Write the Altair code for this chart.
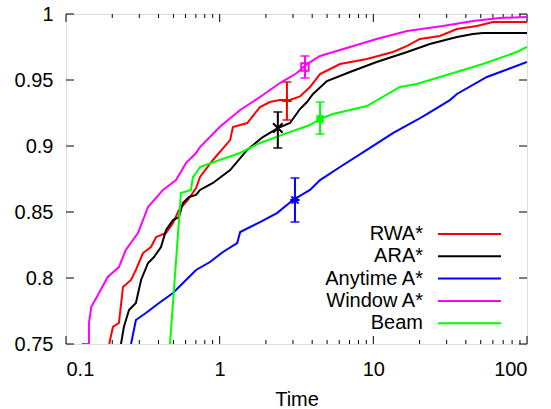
import altair as alt
import pandas as pd

FONT = "Liberation Sans"

series = ["RWA*", "ARA*", "Anytime A*", "Window A*", "Beam"]
colors = ["#ff0000", "#000000", "#0000ff", "#ff00ff", "#00ff00"]

rwa_x = [0.191, 0.202, 0.221, 0.235, 0.265, 0.285, 0.317, 0.357, 0.386, 0.448, 0.497, 0.543, 0.622, 0.702, 0.745,
         0.904, 1.17, 1.22, 1.51, 1.83, 2.12, 2.47, 2.87, 3.33, 3.87, 4.50, 6.07, 9.08, 13.4, 16.6, 20.1, 27.1,
         35.0, 47.2, 60.0, 100]
rwa_y = [0.75, 0.7629, 0.7659, 0.7932, 0.7985, 0.8061, 0.8189, 0.8235, 0.8311, 0.8341, 0.8417, 0.8515, 0.8591,
         0.8682, 0.8765, 0.8894, 0.9045, 0.9144, 0.9174, 0.9295, 0.9333, 0.9348, 0.9348, 0.9375, 0.9447, 0.9545,
         0.9621, 0.9659, 0.9712, 0.9758, 0.9811, 0.9833, 0.9886, 0.9909, 0.9939, 0.9939]

ara_x = [0.228, 0.238, 0.257, 0.285, 0.308, 0.342, 0.374, 0.415, 0.448, 0.497, 0.543, 0.577, 0.631, 0.702, 0.745,
         0.904, 1.17, 1.51, 1.91, 2.39, 2.87, 3.33, 3.70, 4.05, 4.99, 7.05, 10.5, 16.6, 23.3, 35.0, 44.5, 51.6, 100]
ara_y = [0.75, 0.7629, 0.7758, 0.7811, 0.7985, 0.8114, 0.8159, 0.8235, 0.8364, 0.8439, 0.8462, 0.8568, 0.8614,
         0.8629, 0.8667, 0.8720, 0.8818, 0.8970, 0.9068, 0.9136, 0.9174, 0.9280, 0.9333, 0.9394, 0.9492, 0.9561,
         0.9636, 0.9712, 0.9773, 0.9826, 0.9848, 0.9856, 0.9856]

any_x = [0.265, 0.285, 0.331, 0.403, 0.497, 0.577, 0.702, 0.865, 1.05, 1.30, 1.36, 1.83, 2.36, 3.00, 3.87, 4.50,
         6.07, 9.08, 13.4, 19.2, 22.3, 31.5, 35.0, 54.8, 100]
any_y = [0.75, 0.7682, 0.7735, 0.7811, 0.7886, 0.7962, 0.8061, 0.8121, 0.8197, 0.8265, 0.8348, 0.8424, 0.8492,
         0.8591, 0.8667, 0.8742, 0.8841, 0.8970, 0.9098, 0.9197, 0.9242, 0.9348, 0.9394, 0.9523, 0.9636]

win_x = [0.127, 0.141, 0.141, 0.146, 0.164, 0.187, 0.221, 0.245, 0.294, 0.342, 0.428, 0.520, 0.604, 0.702, 0.745,
         1.00, 1.36, 1.83, 2.47, 3.18, 3.70, 4.50, 7.05, 10.5, 16.6, 28.4, 44.5, 66.7, 100]
win_y = [0.75, 0.75, 0.7659, 0.7780, 0.7886, 0.8008, 0.8083, 0.8212, 0.8341, 0.8538, 0.8667, 0.8742, 0.8871,
         0.8947, 0.8992, 0.9144, 0.9273, 0.9371, 0.9477, 0.9553, 0.9621, 0.9682, 0.9750, 0.9811, 0.9871, 0.9909,
         0.9947, 0.9970, 0.9977]

beam_x = [0.475, 0.560, 0.650, 0.670, 0.702, 0.745, 1.00, 1.36, 1.83, 2.74, 3.87, 4.50, 5.46, 9.08, 14.9, 19.2,
          31.5, 51.6, 85.9, 100]
beam_y = [0.75, 0.8644, 0.8667, 0.8765, 0.8795, 0.8841, 0.8894, 0.8947, 0.9023, 0.9098, 0.9159, 0.9205, 0.9242,
          0.9303, 0.9447, 0.9470, 0.9545, 0.9621, 0.9712, 0.9750]

err_x = [2.74, 2.39, 3.09, 3.59, 4.50]
err_y = [0.9341, 0.9136, 0.8591, 0.9598, 0.9205]
err_lo = [0.9197, 0.8985, 0.8424, 0.9515, 0.9091]
err_hi = [0.9485, 0.9258, 0.8758, 0.9682, 0.9333]

x_major = [0.1, 1, 10, 100]
x_minor = [0.2, 0.3, 0.4, 0.5, 0.6, 0.7, 0.8, 0.9, 2, 3, 4, 5, 6, 7, 8, 9, 20, 30, 40, 50, 60, 70, 80, 90]
y_ticks = [0.75, 0.8, 0.85, 0.9, 0.95, 1.0]

W, H = 461, 330

xs = [rwa_x, ara_x, any_x, win_x, beam_x]
ys = [rwa_y, ara_y, any_y, win_y, beam_y]
rows = []
for name, sx, sy in zip(series, xs, ys):
    for i, (a, b) in enumerate(zip(sx, sy)):
        rows.append({"s": name, "x": a, "y": b, "i": i})
lines_df = pd.DataFrame(rows)
err_df = pd.DataFrame({"s": series, "x": err_x, "y": err_y, "lo": err_lo, "hi": err_hi})

xscale = alt.Scale(type="log", domain=[0.1, 100], nice=False)
yscale = alt.Scale(domain=[0.75, 1.0], nice=False, zero=False)
cscale = alt.Scale(domain=series, range=colors)

X = alt.X("x:Q", scale=xscale,
          axis=alt.Axis(values=x_major, format="~g", ticks=False, domain=False, grid=False,
                        labelFontSize=20, labelFont=FONT, labelColor="black", labelPadding=15,
                        title="Time", titleFontSize=20, titleFont=FONT, titleFontWeight="normal",
                        titleColor="black", titlePadding=10))
Y = alt.Y("y:Q", scale=yscale,
          axis=alt.Axis(values=y_ticks, format="~g", ticks=False, domain=False, grid=False,
                        labelFontSize=20, labelFont=FONT, labelColor="black", labelPadding=13,
                        title=None))

lines = alt.Chart(lines_df).mark_line(strokeWidth=2, clip=True).encode(
    x=X, y=Y,
    color=alt.Color("s:N", scale=cscale, legend=None),
    detail="s:N",
    order=alt.Order("i:Q"),
)

err_base = alt.Chart(err_df)
bars = err_base.mark_rule(strokeWidth=2).encode(
    x=alt.X("x:Q", scale=xscale), y=alt.Y("lo:Q", scale=yscale), y2="hi:Q",
    color=alt.Color("s:N", scale=cscale, legend=None))
caps_lo = err_base.mark_tick(orient="horizontal", size=9, thickness=2).encode(
    x=alt.X("x:Q", scale=xscale), y=alt.Y("lo:Q", scale=yscale),
    color=alt.Color("s:N", scale=cscale, legend=None))
caps_hi = err_base.mark_tick(orient="horizontal", size=9, thickness=2).encode(
    x=alt.X("x:Q", scale=xscale), y=alt.Y("hi:Q", scale=yscale),
    color=alt.Color("s:N", scale=cscale, legend=None))

shapes = [
    ("M-1,0L1,0M0,-1L0,1", False),
    ("M-1,-1L1,1M-1,1L1,-1", False),
    ("M-1,0L1,0M0,-1L0,1M-0.75,-0.75L0.75,0.75M-0.75,0.75L0.75,-0.75", False),
    ("square", False),
    ("square", True),
]
markers = []
for name, c, (shp, filled) in zip(series, colors, shapes):
    m = alt.Chart(err_df[err_df["s"] == name]).mark_point(
        shape=shp, filled=filled, size=90 if shp != "square" else 55, strokeWidth=2,
        color=c, opacity=1).encode(x=alt.X("x:Q", scale=xscale), y=alt.Y("y:Q", scale=yscale))
    markers.append(m)

# inward ticks
xmaj_df = pd.DataFrame({"x": x_major})
xmin_df = pd.DataFrame({"x": x_minor})
yt_df = pd.DataFrame({"y": y_ticks})
tick_layers = []
for df, ln in [(xmaj_df, 8), (xmin_df, 4)]:
    tick_layers.append(alt.Chart(df).mark_rule(color="black", strokeWidth=1).encode(
        x=alt.X("x:Q", scale=xscale), y=alt.value(H), y2=alt.value(H - ln)))
    tick_layers.append(alt.Chart(df).mark_rule(color="black", strokeWidth=1).encode(
        x=alt.X("x:Q", scale=xscale), y=alt.value(0), y2=alt.value(ln)))
tick_layers.append(alt.Chart(yt_df).mark_rule(color="black", strokeWidth=1).encode(
    y=alt.Y("y:Q", scale=yscale), x=alt.value(0), x2=alt.value(8)))
tick_layers.append(alt.Chart(yt_df).mark_rule(color="black", strokeWidth=1).encode(
    y=alt.Y("y:Q", scale=yscale), x=alt.value(W), x2=alt.value(W - 8)))

# legend (gnuplot style: label then line sample)
legend_layers = []
for k, (name, c) in enumerate(zip(series, colors)):
    ly = 220 + 22.3 * k
    ldf = pd.DataFrame({"t": [name]})
    legend_layers.append(alt.Chart(ldf).mark_text(
        align="right", baseline="middle", fontSize=20, font=FONT, color="black").encode(
        text="t:N", x=alt.value(357), y=alt.value(ly)))
    legend_layers.append(alt.Chart(ldf).mark_rule(color=c, strokeWidth=2).encode(
        x=alt.value(372), x2=alt.value(435), y=alt.value(ly)))

chart = alt.layer(
    *tick_layers, lines, bars, caps_lo, caps_hi, *markers, *legend_layers
).properties(
    width=W, height=H,
    autosize=alt.AutoSizeParams(type="none"),
    padding={"left": 66, "top": 14, "right": 24, "bottom": 65},
).configure_view(
    stroke="black", strokeWidth=1.5
).configure(background="white")

chart.save("out.html", embed_options={"renderer": "svg", "actions": False})
